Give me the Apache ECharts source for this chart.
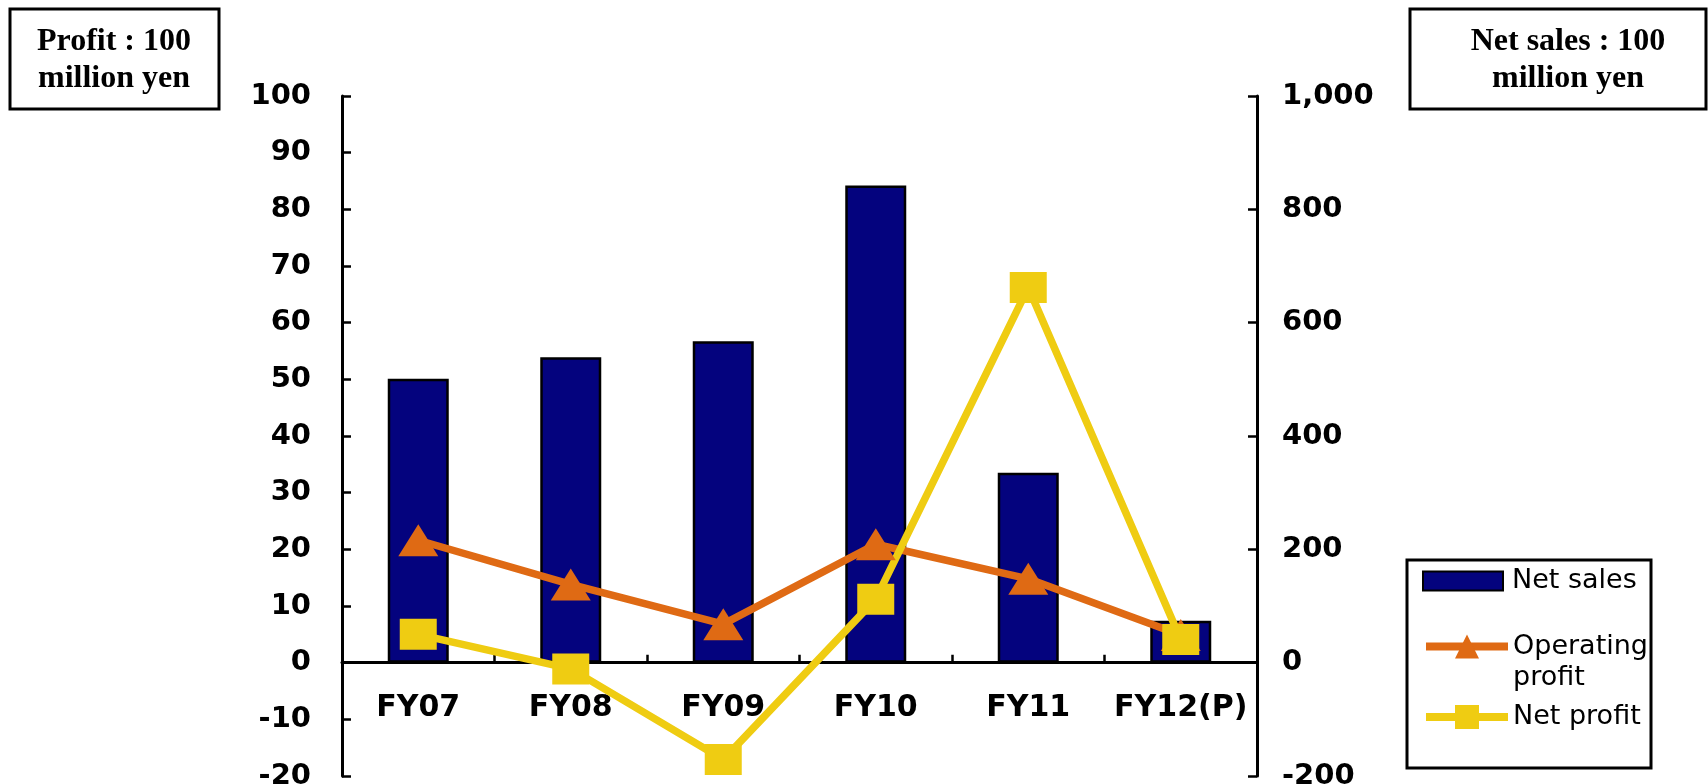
<!DOCTYPE html>
<html><head><meta charset="utf-8">
<script src="https://cdn.jsdelivr.net/npm/echarts@6/dist/echarts.min.js"></script>
<style>html,body{margin:0;padding:0;background:#fff}#c{width:1708px;height:784px}</style>
</head><body><div id="c"></div>
<script>
const categories = ['FY07', 'FY08', 'FY09', 'FY10', 'FY11', 'FY12(P)'];
const netSales = [501, 539, 567, 842, 335, 74];
const operatingProfit = [21.6, 13.8, 6.8, 20.9, 14.8, 4.9];
const netProfit = [5.0, -1.1, -17.1, 11.2, 66.2, 4.1];
const seriesNames = ['Net sales', 'Operating profit', 'Net profit'];
const leftUnit = 'Profit : 100\nmillion yen';
const rightUnit = 'Net sales : 100\nmillion yen';
const leftRange = [-20, 100, 10];
const rightRange = [-200, 1000, 200];

const W = 1708, H = 784;
const GRID = { left: 342, right: 451, top: 96, bottom: 8 };
const plotH = H - GRID.top - GRID.bottom;
const zeroOffset = -plotH * (0 - leftRange[0]) / (leftRange[1] - leftRange[0]);

const NAVY = '#04037E', ORANGE = '#DF6A14', YELLOW = '#EFCC12';
const axisFont = { fontFamily: 'DejaVu Sans', fontWeight: 'bold', color: '#000' };
const legendFont = { fontFamily: 'DejaVu Sans', fontSize: 27, color: '#000' };
const chart = echarts.init(document.getElementById('c'));
chart.setOption({
  animation: false,
  backgroundColor: '#fff',
  grid: Object.assign({ containLabel: false, outerBoundsMode: 'none' }, GRID),
  xAxis: {
    type: 'category', data: categories, boundaryGap: true, position: 'bottom', offset: zeroOffset,
    axisLine: { onZero: false, lineStyle: { color: '#000', width: 3 } },
    axisTick: { show: true, inside: true, length: 8, lineStyle: { color: '#000', width: 2.5 } },
    axisLabel: Object.assign({ margin: 31, fontSize: 30, interval: 0, hideOverlap: false }, axisFont),
    splitLine: { show: false }
  },
  yAxis: [
    { type: 'value', position: 'left', min: leftRange[0], max: leftRange[1], interval: leftRange[2],
      axisLine: { show: true, onZero: false, lineStyle: { color: '#000', width: 3 } },
      axisTick: { show: true, inside: true, length: 9, lineStyle: { color: '#000', width: 2.5 } },
      axisLabel: Object.assign({ margin: 31, fontSize: 29 }, axisFont),
      splitLine: { show: false } },
    { type: 'value', position: 'right', min: rightRange[0], max: rightRange[1], interval: rightRange[2],
      axisLine: { show: true, onZero: false, lineStyle: { color: '#000', width: 3 } },
      axisTick: { show: true, inside: true, length: 9, lineStyle: { color: '#000', width: 2.5 } },
      axisLabel: Object.assign({ margin: 25, fontSize: 29, formatter: v => v.toLocaleString('en-US') }, axisFont),
      splitLine: { show: false } }
  ],
  legend: [
    { data: [seriesNames[0]], orient: 'vertical', left: 1422, top: 566, padding: 0,
      itemWidth: 80, itemHeight: 19, icon: 'rect',
      textStyle: Object.assign({ lineHeight: 30, padding: [0, 0, 0, 4] }, legendFont) },
    { data: [seriesNames[1]], orient: 'vertical', left: 1422, top: 600, padding: 0,
      itemWidth: 82, itemHeight: 30,
      formatter: () => ' \nOperating\nprofit',
      lineStyle: { width: 8 },
      textStyle: Object.assign({ lineHeight: 31 }, legendFont) },
    { data: [seriesNames[2]], orient: 'vertical', left: 1422, top: 702, padding: 0,
      itemWidth: 82, itemHeight: 30,
      lineStyle: { width: 8 },
      textStyle: Object.assign({ lineHeight: 30 }, legendFont) }
  ],
  series: [
    { name: seriesNames[0], type: 'bar', yAxisIndex: 1, data: netSales, barCategoryGap: '60%',
      itemStyle: { color: NAVY, borderColor: '#000', borderWidth: 2.5 } },
    { name: seriesNames[1], type: 'line', yAxisIndex: 0, data: operatingProfit,
      symbol: 'triangle', symbolSize: [40, 32], showAllSymbol: true,
      lineStyle: { color: ORANGE, width: 7.5 }, itemStyle: { color: ORANGE } },
    { name: seriesNames[2], type: 'line', yAxisIndex: 0, data: netProfit,
      symbol: 'rect', symbolSize: [37, 31], showAllSymbol: true,
      lineStyle: { color: YELLOW, width: 7.5 }, itemStyle: { color: YELLOW } }
  ],
  graphic: [
    { type: 'rect', shape: { x: 10, y: 9, width: 209, height: 100 }, style: { fill: '#fff', stroke: '#000', lineWidth: 3 }, z: 10 },
    { type: 'text', x: 114, y: 60, z: 11, style: { text: leftUnit, fontFamily: 'Liberation Serif', fontWeight: 'bold', fontSize: 32, lineHeight: 37, fill: '#000', align: 'center', verticalAlign: 'middle' } },
    { type: 'rect', shape: { x: 1410, y: 9, width: 296, height: 100 }, style: { fill: '#fff', stroke: '#000', lineWidth: 3 }, z: 10 },
    { type: 'text', x: 1568, y: 60, z: 11, style: { text: rightUnit, fontFamily: 'Liberation Serif', fontWeight: 'bold', fontSize: 32, lineHeight: 37, fill: '#000', align: 'center', verticalAlign: 'middle' } },
    { type: 'rect', shape: { x: 1407, y: 560, width: 244, height: 208 }, style: { fill: 'none', stroke: '#000', lineWidth: 3 }, z: 10 }
  ]
});
</script></body></html>
